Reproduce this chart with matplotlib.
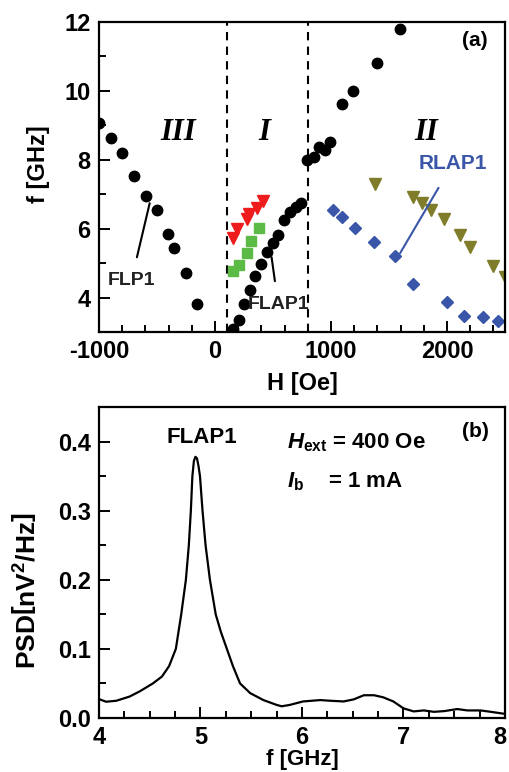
import matplotlib.pyplot as plt
from matplotlib.ticker import MultipleLocator
from matplotlib.transforms import ScaledTranslation

# Fonts: bold Arial-like everywhere, hyphen instead of unicode minus
plt.rcParams['font.family'] = ['Liberation Sans', 'DejaVu Sans']
plt.rcParams['font.weight'] = 'bold'
plt.rcParams['axes.labelweight'] = 'bold'
plt.rcParams['axes.unicode_minus'] = False
plt.rcParams['mathtext.fontset'] = 'custom'
plt.rcParams['mathtext.rm'] = 'Liberation Sans:bold'
plt.rcParams['mathtext.it'] = 'Liberation Sans:bold:italic'
plt.rcParams['mathtext.bf'] = 'Liberation Sans:bold'

#%% Data panel (a): frequency vs field
flp_H = [-1000, -899, -801, -698, -597, -499, -401, -352, -249, -151,
         151, 203, 246, 301, 347, 396, 448, 496, 545, 597, 646, 695, 744,
         796, 853, 897, 948, 994, 1095, 1190, 1394, 1596]
flp_f = [9.08, 8.63, 8.20, 7.54, 6.96, 6.53, 5.86, 5.45, 4.70, 3.82,
         3.10, 3.34, 3.81, 4.23, 4.63, 4.98, 5.31, 5.59, 5.83, 6.25, 6.49, 6.64, 6.76,
         8.00, 8.08, 8.38, 8.28, 8.51, 9.62, 9.99, 10.82, 11.79]

red_H = [151, 194, 278, 295, 358, 416]
red_f = [5.72, 5.98, 6.27, 6.42, 6.59, 6.80]

green_H = [157, 209, 278, 312, 381]
green_f = [4.78, 4.96, 5.29, 5.63, 6.02]

rlap_H = [1020, 1095, 1210, 1368, 1555, 1705, 1999, 2148, 2309, 2442]
rlap_f = [6.53, 6.34, 6.03, 5.61, 5.21, 4.40, 3.86, 3.46, 3.43, 3.33]

olive_H = [1380, 1705, 1786, 1866, 1970, 2114, 2200, 2396, 2500]
olive_f = [7.31, 6.93, 6.74, 6.53, 6.29, 5.83, 5.47, 4.93, 4.59]

grenser = [100, 800]

#%% Data panel (b): spectrum
psd_f = [4.00, 4.07, 4.17, 4.30, 4.40, 4.53, 4.62, 4.69, 4.757, 4.81,
         4.856, 4.885, 4.905, 4.92, 4.935, 4.95, 4.965, 4.98, 4.995, 5.02,
         5.05, 5.093, 5.15, 5.20, 5.26, 5.32, 5.39, 5.49, 5.62, 5.75, 5.80,
         5.88, 6.01, 6.18, 6.28, 6.41, 6.51, 6.61, 6.71, 6.80, 6.90, 7.00,
         7.10, 7.20, 7.30, 7.40, 7.53, 7.63, 7.76, 7.86, 8.00]
psd = [0.0274, 0.0236, 0.025, 0.031, 0.0385, 0.050, 0.060, 0.075, 0.100,
       0.150, 0.200, 0.250, 0.300, 0.350, 0.372, 0.378, 0.376, 0.365, 0.350,
       0.300, 0.250, 0.200, 0.150, 0.125, 0.100, 0.075, 0.050, 0.036, 0.026,
       0.019, 0.017, 0.019, 0.024, 0.026, 0.025, 0.024, 0.027, 0.033, 0.033,
       0.030, 0.024, 0.014, 0.0096, 0.011, 0.009, 0.010, 0.013, 0.011, 0.011,
       0.009, 0.006]

#%% Figure
fig = plt.figure(figsize=(5.09, 7.72), dpi=100)
axA = fig.add_axes([0.1945, 0.5699, 0.7976, 0.4016])
axB = fig.add_axes([0.1945, 0.0699, 0.7976, 0.4028])

for ax in (axA, axB):
    for s in ax.spines.values():
        s.set_linewidth(1.6)
    ax.tick_params(which='both', direction='in', width=1.4, labelsize=17, pad=6,
                   top=False, right=False)
    ax.tick_params(which='major', length=8)
    ax.tick_params(which='minor', length=5)

# Panel (a)
for g in grenser:
    axA.axvline(g, color='black', ls=(0, (4, 3)), lw=1.5)
axA.plot(flp_H, flp_f, 'o', color='black', ms=7.5, ls='none')
axA.plot(red_H, red_f, 'v', color='#ee1c1c', ms=9, ls='none')
axA.plot(green_H, green_f, 's', color='#5cba47', ms=7, ls='none')
axA.plot(rlap_H, rlap_f, 'D', color='#3a56a8', ms=6.5, ls='none')
axA.plot(olive_H, olive_f, 'v', color='#7f7c2a', ms=9, ls='none')

axA.set_xlim(-1000, 2500)
axA.set_ylim(3, 12)
axA.xaxis.set_major_locator(MultipleLocator(1000))
axA.xaxis.set_minor_locator(MultipleLocator(200))
axA.yaxis.set_major_locator(MultipleLocator(2))
axA.yaxis.set_minor_locator(MultipleLocator(1))
axA.set_xlabel('H [Oe]', fontsize=17, labelpad=6)
axA.set_ylabel('f [GHz]', fontsize=17)
axA.yaxis.set_label_coords(-0.12, 0.54)

romer = dict(family='Liberation Serif', style='italic', weight='bold', fontsize=22,
             ha='center', va='center')
axA.text(-318, 8.78, 'III', **romer)
axA.text(422, 8.78, 'I', **romer)
axA.text(1820, 8.78, 'II', **romer)
axA.text(2244, 11.47, '(a)', fontsize=15, ha='center', va='center')

axA.annotate('FLP1', xy=(-563, 6.74), xytext=(-721, 4.49), fontsize=14,
             ha='center', va='center', color='#222222',
             arrowprops=dict(arrowstyle='-', lw=1.5, color='black', shrinkA=9, shrinkB=0))
axA.annotate('FLAP1', xy=(488, 5.17), xytext=(545, 3.79), fontsize=14,
             ha='center', va='center', color='#222222',
             arrowprops=dict(arrowstyle='-', lw=1.5, color='black', shrinkA=9, shrinkB=0))
axA.annotate('RLAP1', xy=(1596, 5.29), xytext=(2050, 7.89), fontsize=15,
             ha='center', va='center', color='#3a56a8',
             arrowprops=dict(arrowstyle='-', lw=1.5, color='#3a56a8', shrinkA=10, shrinkB=0))

# Panel (b)
axB.plot(psd_f, psd, color='black', lw=1.6, solid_joinstyle='round')
axB.set_xlim(4, 8)
axB.set_ylim(0, 0.45)
axB.xaxis.set_major_locator(MultipleLocator(1))
axB.xaxis.set_minor_locator(MultipleLocator(0.25))
axB.yaxis.set_major_locator(MultipleLocator(0.1))
axB.yaxis.set_minor_locator(MultipleLocator(0.05))
axB.yaxis.set_major_formatter(plt.FormatStrFormatter('%.1f'))
axB.set_xlabel('f [GHz]', fontsize=16, labelpad=0)
axB.set_ylabel(r'PSD$\left[\mathrm{nV^2/Hz}\right]$', fontsize=19)
axB.yaxis.set_label_coords(-0.145, 0.41)

axB.text(5.01, 0.406, 'FLAP1', fontsize=16, ha='center', va='center')
axB.text(5.85, 0.399, r'$\mathit{H}_{\mathrm{ext}}$ = 400 Oe', fontsize=16, ha='left', va='center')
axB.text(5.85, 0.342, r'$\mathit{I}_{\mathrm{b}}$    = 1 mA', fontsize=16, ha='left', va='center')
axB.text(7.71, 0.414, '(b)', fontsize=15, ha='center', va='center')

# Skyver tick-label "8" litt inn så den ikke kuttes i kanten
fig.canvas.draw()
for lab in axB.get_xticklabels():
    if lab.get_text() == '8':
        lab.set_transform(lab.get_transform() + ScaledTranslation(-4 / 72, 0, fig.dpi_scale_trans))

fig.savefig('out.png', dpi=100)
